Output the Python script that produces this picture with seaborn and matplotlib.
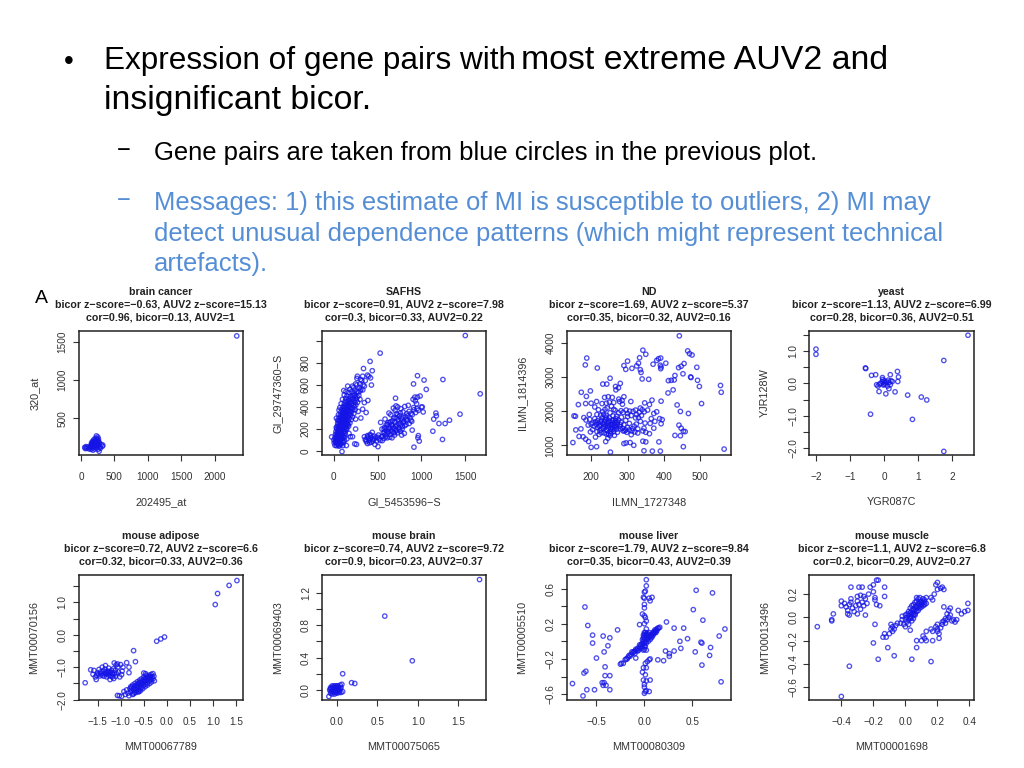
import pandas as pd
import matplotlib
matplotlib.use("Agg")
import matplotlib.pyplot as plt
import seaborn as sns

# points, (x, y) in axis units
brain_cancer = [(2330,1575),(55,120),(65,105),(75,130),(85,110),(100,125),(120,100),(130,115),(145,140),(150,95),
    (155,170),(160,130),(165,190),(170,150),(175,115),(180,205),(180,85),(185,160),(190,130),(195,225),(200,180),
    (205,100),(210,150),(215,210),(215,125),(220,240),(225,170),(230,270),(235,140),(235,200),(240,115),(240,225),
    (245,175),(250,255),(255,95),(260,150),(265,195),(270,70),(280,125),(290,110),(300,160),(320,135),(325,150),
    (175,175),(200,195),(225,160),(250,205),(160,155),(190,145),(215,190),(270,180),(150,120),(260,230),(205,165),(185,185)]
safhs = [(1500,1050),(1670,520),(1245,650),(1030,645),(955,685),(910,610),(1055,560),(530,890),(415,815),(340,750),
    (440,730),(270,680),(265,660),(400,680),(385,690),(430,600),(350,590),(335,600),(1440,335),(1320,280),(1270,250),
    (1240,105),(1200,250),(1165,345),(1170,320),(1130,180),(1140,290),(915,35),(975,90),(965,140),(960,120),(95,-5),
    (15,52),(32,48),(47,55),(62,44),(78,57),(104,49),(6,74),(27,79),(41,70),(56,82),(71,73),(88,68),(112,77),
    (2,101),(21,96),(36,108),(52,93),(67,104),(81,98),(96,110),(123,95),(-23,128),(14,122),(31,131),(46,119),(61,127),
    (76,133),(92,120),(113,129),(22,152),(37,146),(51,158),(66,149),(83,154),(102,143),(128,156),(26,177),(42,170),
    (56,181),(72,173),(87,179),(107,168),(133,176),(34,203),(52,196),(66,207),(81,198),(97,204),(116,193),(142,201),
    (41,226),(57,220),(71,231),(86,222),(102,229),(122,218),(152,227),(46,252),(62,246),(77,256),(92,248),(107,254),
    (127,243),(157,251),(56,277),(72,271),(87,281),(101,273),(117,279),(137,268),(167,276),(31,298),(62,303),(81,296),
    (96,306),(112,298),(127,304),(147,293),(177,301),(76,327),(92,321),(107,331),(122,323),(137,329),(157,318),(192,326),
    (82,352),(101,346),(117,356),(132,348),(152,354),(172,343),(202,351),(61,372),(92,377),(111,371),(127,381),(142,373),
    (162,379),(182,368),(217,376),(106,402),(122,396),(137,406),(157,398),(177,404),(197,393),(237,401),(121,427),
    (142,421),(162,431),(182,423),(207,429),(252,418),(131,452),(152,446),(172,456),(197,448),(227,454),(272,443),
    (137,477),(167,471),(192,481),(222,473),(252,479),(152,502),(187,496),(217,506),(247,498),(287,504),(172,532),
    (232,526),(282,536),(115,550),(242,552),(302,546),(332,556),(215,590),(290,575),(250,610),(320,640),(330,680),
    (305,650),(360,640),(420,665),(300,470),(390,460),(330,380),(370,350),(250,290),(280,360),(310,300),(145,50),(190,130),
    (165,240),(240,65),(260,60),(385,140),(350,130),(360,105),(372,85),(385,68),(395,115),(405,95),(415,150),(425,120),
    (430,80),(440,170),(450,105),(460,135),(470,60),(480,125),(490,90),(505,40),(510,145),(520,110),(535,260),(545,130),
    (555,95),(565,165),(575,115),(585,290),(590,150),(600,185),(610,120),(615,240),(625,175),(630,345),(635,210),(645,150),
    (650,265),(655,190),(665,120),(670,230),(680,170),(685,300),(690,205),(695,145),(700,260),(705,480),(710,190),(715,340),
    (720,235),(725,165),(730,400),(735,280),(740,210),(750,320),(755,250),(760,180),(765,385),(770,295),(775,145),(785,225),
    (790,355),(800,270),(805,160),(810,405),(820,310),(825,240),(835,340),(840,280),(850,415),(860,250),(870,300),
    (880,340),(890,270),(895,190),(905,470),(915,375),(925,490),(935,350),(945,430),(955,490),(965,370),(985,500),
    (1000,400),(1010,400),(1020,355),(600,210),(650,330),(700,370),(550,200),(780,280),(660,240),(720,300),(620,260),
    # thicker parts of both SAFHS arms
    (20,85),(44,135),(58,165),(74,190),(90,215),(110,240),(130,262),(145,285),(160,310),(178,335),(195,362),(210,392),
    (226,415),(242,440),(258,462),(268,490),(30,215),(45,280),(55,330),(70,395),(85,430),(100,470),(120,510),(140,540),
    (160,590),(185,560),(205,540),(225,575),(265,540),(150,200),(170,225),(185,255),(200,285),(215,310),(230,340),(245,375),
    (100,85),(125,125),(150,110),(175,160),(215,130),(250,200),(310,560),(265,600),(300,610),(350,440),(60,55),(38,90),
    (78,115),(98,150),(118,180),(138,212),(148,248),(115,305),(135,345),(155,375),(170,408),(190,440),(205,470),(235,505),
    (370,100),(390,130),(410,75),(420,140),(445,90),(465,110),(500,125),(530,95),(560,135),(580,170),(595,130),(610,160),
    (625,200),(640,125),(660,175),(675,215),(690,165),(705,225),(720,185),(735,250),(750,195),(765,235),(780,200),(795,255),
    (810,230),(825,290),(845,320),(860,360),(880,280),(895,330),(910,395),(930,455),(950,385),(640,260),(670,275),(700,300),
    (730,330),(760,345),(790,305),(600,240),(580,215),(680,390),(710,410),(575,200)]
nd = [(442,4200),(342,3780),(350,3660),(333,3560),(330,3400),(300,3460),(290,3330),(295,3220),(312,3250),(325,3320),(335,3210),
    (337,3130),(340,2940),(358,2930),(188,3550),(184,3350),(217,3260),(252,2960),(232,2790),(243,2790),(280,2810),(267,2720),
    (268,2620),(275,2680),(173,2550),(187,2430),(198,2590),(370,3370),(380,3480),(385,3530),(391,3550),(390,3340),(391,3240),
    (392,3290),(405,3400),(465,3760),(470,3680),(477,3640),(490,3280),(455,3390),(447,3310),(440,3270),(452,3090),(474,2980),
    (473,3000),(492,2900),(497,2720),(555,2750),(557,2550),(565,890),(503,2220),(412,2890),(420,2900),(428,2910),(430,3040),
    (425,2620),(411,2530),(436,2180),(445,1990),(467,1930),(441,1590),(447,1500),(453,1410),(458,1400),(430,1290),(445,1280),
    (453,960),(368,830),(390,830),(345,840),(253,800),(392,1630),(388,1780),(395,1750),(372,1930),(380,1980),(386,1100),
    (350,1100),(342,1120),(317,1000),(290,1050),(296,1070),(307,1080),(215,960),(200,940),(150,1080),(193,1110),(185,1180),
    (178,1250),(167,1260),(158,1450),(172,1480),(153,1860),(157,1850),(165,2190),(185,2220),(200,2230),(215,2280),(237,2400),
    (247,2420),(258,2400),(276,2350),(285,2310),(290,2420),(309,2280),(347,2240),(360,2190),(367,2320),(375,1700),(392,2290),
    (210,2120),(220,2040),(232,1980),(244,2090),(256,2140),(266,2020),(296,2030),(306,2000),(315,1990),(325,1900),(335,2090),
    (340,2040),(283,1820),(295,1730),(305,1640),(318,1560),(328,1480),(342,1420),(350,1380),(360,1340),(335,1700),(348,1650),
    (310,1310),(292,1420),(280,1480),(272,1380),(264,1290),(254,1340),(246,1210),(240,1110),(222,1320),(212,1240),(198,1390),
    (204,1460),(192,1590),(186,1740),(195,1900),(180,1810),(205,1650),(210,1780),(216,1900),(222,1560),(226,1690),(230,1800),
    (233,1500),(236,1620),(238,1740),(241,1880),(244,1420),(246,1560),(248,1680),(250,1800),(252,1950),(254,1480),(256,1600),
    (258,1720),(260,1860),(262,1400),(264,1540),(266,1660),(268,1780),(270,1470),(272,1610),(275,1740),(278,1550),(282,1670),
    (286,1500),(290,1600),(295,1450),(300,1520),(305,1450),(312,1420),(320,1390),(328,1360),(214,1610),(218,1720),(224,1430),
    (228,1370),(242,1330),(252,1280),(345,1500),(362,1640),(372,1500),(365,1780),(322,1800),(310,1870),(332,1960),(355,2030),
    (300,1930),(282,2010),(275,1950),(230,2220),(262,2250),
    # the dense middle of the ND cloud
    (220,1650),(224,1580),(228,1720),(232,1640),(235,1540),(237,1680),(240,1580),(242,1460),(243,1770),(245,1640),(247,1500),
    (249,1720),(251,1590),(253,1400),(255,1680),(257,1530),(259,1620),(261,1750),(263,1480),(265,1590),(267,1720),(269,1540),
    (240,1820),(234,1900),(228,1480),(218,1520),(212,1690),(208,1560),(200,1620),(196,1760),(216,1400),(236,1360),(248,1320),
    (258,1460),(272,1680),(280,1600),(288,1420),(298,1380),(314,1490),(324,1620),(330,1810),(338,1870),(346,1980),(322,2030),
    (300,1840),(288,1960),(270,1850),(262,2050),(250,2260),(242,2230),(286,2200),(278,2280),(238,2050),(226,1880)]
yeast = [(-2,1.06),(-2,.9),(2.46,1.49),(1.75,.71),(1.75,-2.1),(.83,-1.11),(1.25,-.51),(1.09,-.42),(.69,-.36),(-.4,-.95),
    (.05,-.32),(.32,-.26),(-.37,.25),(-.25,.27),(-.55,.48),(-.54,.46),(.39,.37),(.42,.2),(.4,.06),(.18,.27),
    (-.22,-.04),(-.18,-.08),(-.15,-.25),(-.14,-.02),(-.1,.0),(-.06,.05),(-.05,.18),(-.04,.12),(-.02,-.05),(.0,.08),
    (.04,-.02),(.07,.05),(.1,-.08),(.12,.1),(.14,-.16),(.15,.03),(.18,-.04),(.2,.08),(.24,.06),(.02,.03),(-.01,-.02)]
mouse_adipose = [(1.52,1.67),(1.35,1.52),(1.1,1.27),(1.05,.93),(-.05,-.07),(-.13,-.13),(-.22,-.2),(-.72,-.49),(-.68,-.83),
    (-.87,-.86),(-.82,-1.0),(-.82,-1.17),(-1.77,-1.48),(-1.65,-1.08),(-1.6,-1.22),(-1.58,-1.1),(-1.55,-1.3),(-1.53,-1.38),
    (-1.5,-1.18),(-1.47,-1.07),(-1.45,-1.27),(-1.42,-1.2),(-1.4,-1.0),(-1.38,-1.12),(-1.36,-1.28),(-1.34,-1.06),(-1.33,-.95),
    (-1.31,-1.2),(-1.3,-1.3),(-1.28,-1.12),(-1.26,-1.03),(-1.25,-1.25),(-1.23,-1.38),(-1.22,-1.18),(-1.2,-1.1),(-1.18,-1.3),
    (-1.17,-1.22),(-1.15,-1.35),(-1.14,-.87),(-1.12,-1.1),(-1.11,-1.28),(-1.09,-1.2),(-1.07,-.9),(-1.06,-.99),(-1.05,-1.15),
    (-1.02,-1.3),(-1.0,-.92),(-.98,-1.23),(-.95,-1.0),(-.97,-1.12),(-1.35,-1.2),(-1.27,-1.16),(-1.44,-1.15),(-1.19,-1.18),
    (-1.07,-1.87),(-1.03,-1.88),(-.98,-1.9),(-.93,-1.75),(-.9,-1.84),(-.87,-1.7),(-.84,-1.8),(-.82,-1.88),(-.8,-1.66),(-.78,-1.76),
    (-.76,-1.62),(-.74,-1.84),(-.72,-1.7),(-.7,-1.58),(-.7,-1.78),(-.68,-1.66),(-.66,-1.55),(-.66,-1.72),(-.64,-1.62),(-.62,-1.5),
    (-.62,-1.7),(-.6,-1.6),(-.58,-1.46),(-.58,-1.66),(-.56,-1.54),(-.54,-1.44),(-.54,-1.62),(-.52,-1.5),(-.5,-1.38),(-.5,-1.56),
    (-.48,-1.44),(-.46,-1.33),(-.46,-1.52),(-.44,-1.4),(-.42,-1.3),(-.42,-1.48),(-.4,-1.36),(-.38,-1.25),(-.38,-1.42),(-.36,-1.32),
    (-.34,-1.22),(-.34,-1.38),(-.32,-1.3),(-.3,-1.2),(-.3,-1.36),(-.28,-1.28),(-.5,-1.18),(-.46,-1.2),(-.27,-1.42),(-.6,-1.75),
    (-.78,-1.6),(-.74,-1.55),(-.69,-1.5),(-.64,-1.45),(-.59,-1.4),(-.55,-1.36),(-.5,-1.3),(-.45,-1.25),(-.72,-1.82),(-.67,-1.78),
    (-.62,-1.76),(-.57,-1.72),(-.52,-1.66),(-.47,-1.6),(-.42,-1.55),(-.37,-1.5),(-.33,-1.45),(-.77,-1.7),(-.71,-1.64),(-.65,-1.58),
    (-.6,-1.52),(-.55,-1.48),(-.49,-1.42),(-.44,-1.35),(-.39,-1.3),(-.35,-1.28),(-1.32,-1.14),(-1.29,-1.22),(-1.24,-1.15),(-1.21,-1.28),
    (-1.16,-1.05),(-1.13,-1.18),(-1.4,-1.25),(-1.48,-1.22),(-1.52,-1.25),(-1.1,-.93)]
mouse_brain = [(1.76,1.36),(.59,.91),(.93,.36),(.07,.2),(.18,.09),(.22,.08),(-.1,-.08),(-.09,.0),(-.08,.03),(-.08,-.04),(-.07,.02),
    (-.07,-.02),(-.06,.05),(-.06,-.05),(-.05,.0),(-.05,.03),(-.04,-.03),(-.04,.05),(-.03,.0),(-.03,-.05),(-.02,.02),(-.02,.05),
    (-.01,-.03),(-.01,.0),(.0,.03),(.0,-.04),(.01,.01),(.01,.05),(.02,-.02),(.02,.03),(.03,.0),(.04,.06),(.05,.03),(.06,.07),
    (.07,-.02),(.05,-.03),(-.06,-.02),(-.03,.03),(.0,.0),(-.04,.01),(-.02,-.02),(.0,.05),(.02,.0),(.03,-.03),(.04,.02),(-.08,.01)]
mouse_liver = [(.02,.7),(.02,.63),(.01,.57),(.0,.56),(-.01,.5),(.0,.49),(.05,.49),(.08,.5),(.06,.46),(.0,.42),(.0,.38),(-.02,.31),(.0,.29),
    (.01,.27),(.02,.23),(.0,.2),(.02,.14),(-.05,.19),(.0,.1),(.02,.08),(-.62,.39),(-.59,.18),(-.54,.07),(-.54,-.02),(-.43,.06),
    (-.36,.04),(-.28,.13),(-.38,-.05),(-.42,-.12),(-.5,-.19),(.23,.22),(.31,.15),(.41,.15),(.37,0),(.45,.03),(.38,-.08),(.51,.36),
    (.54,.58),(.71,.55),(.61,.24),(.84,.14),(.78,.06),(.59,-.01),(.6,-.02),(.69,-.07),(.53,-.12),(.68,-.16),(.6,-.27),(.8,-.46),
    (.22,-.11),(.26,-.14),(.26,-.17),(.31,-.11),(.14,-.21),(.2,-.22),(.06,-.2),(.05,-.21),(.03,-.23),(.01,-.25),(-.75,-.48),(-.64,-.62),
    (-.6,-.55),(-.63,-.36),(-.61,-.34),(-.52,-.55),(-.43,-.5),(-.42,-.47),(-.44,-.47),(-.4,-.5),(-.41,-.39),(-.41,-.29),(-.36,-.39),
    (-.36,-.55),(-.09,-.19),(-.01,-.3),(-.02,-.35),(.01,-.38),(.02,-.3),(-.01,-.44),(.02,-.45),(.06,-.44),(.0,-.49),(.0,-.52),(.01,-.57),
    (.05,-.57),(.0,-.59),(.02,-.56),(-.25,-.26),(-.24,-.25),(-.22,-.25),(-.2,-.21),(-.18,-.2),(-.17,-.18),(-.16,-.16),(-.14,-.15),(-.12,-.13),
    (-.1,-.11),(-.1,-.14),(-.08,-.1),(-.07,-.08),(-.06,-.1),(-.05,-.07),(-.04,-.05),(-.03,-.08),(-.02,-.03),(-.02,.02),(-.01,-.1),(-.01,.04),
    (0,-.02),(0,.02),(0,.05),(.01,-.06),(.01,.0),(.02,.03),(.03,.02),(.03,.06),(.04,.04),(.05,.05),(.06,.02),(.07,.07),(.08,.08),(.09,.07),
    (.1,.11),(.11,.1),(.12,.12),(.13,.14),(.14,.15),(.15,.15),(.16,.16),(.0,-.09),(.02,-.1),(-.19,-.2),(-.15,-.17),(-.13,-.12),(-.11,-.12),
    (-.09,-.09),(-.07,-.11),(-.05,-.04),(-.03,-.03),(-.02,-.06),(-.01,.0),(.0,.08),(.01,.1),(.02,.07),(.03,.09),(.04,.08),(.05,.1),(.06,.06),
    (.07,.04),(.08,.05),(.09,.1),(.1,.09),(.11,.13),(.12,.1),(.13,.12),(-.01,.07),(.0,-.05),(.02,-.02),(.04,.0)]
mouse_muscle = [(-.4,-.68),(-.35,-.42),(-.55,-.08),(-.46,-.03),(-.46,-.02),(-.45,.03),(-.19,-.06),(-.11,-.26),(-.17,-.36),(-.07,-.33),(.04,-.36),
    (.16,-.38),(-.2,-.22),(-.34,.26),(-.29,.26),(-.27,.26),(-.18,.32),(-.17,.32),(-.2,.28),(-.22,.26),(-.23,.2),(-.2,.22),(-.19,.17),(-.13,.26),
    (-.13,.18),(-.19,.15),(-.18,.11),(-.16,.1),(-.25,.02),(-.3,.03),(-.4,.14),(-.4,.1),(-.38,.12),(-.37,.09),(-.36,.06),(-.35,.11),(-.34,.13),
    (-.33,.08),(-.32,.05),(-.31,.1),(-.3,.18),(-.3,.14),(-.29,.11),(-.28,.19),(-.28,.07),(-.27,.13),(-.26,.18),(-.26,.1),(-.25,.16),(-.24,.12),(-.36,.03),
    (-.35,.02),(-.34,.16),(-.09,-.06),(-.08,-.08),(-.09,-.1),(-.08,-.12),(-.1,-.14),(-.07,-.1),(-.14,-.17),(-.13,-.14),(-.12,-.17),(-.06,-.07),(-.05,-.05),
    (-.03,-.05),(-.02,-.02),(-.01,-.06),(.0,-.08),(.0,-.02),(.01,.0),(.01,-.04),(.02,.02),(.02,-.06),(.03,.04),(.03,-.01),(.03,-.11),(.04,.06),(.04,.0),
    (.05,.07),(.05,.02),(.06,.09),(.06,.03),(.07,.1),(.07,.05),(.08,.12),(.08,.06),(.09,.13),(.09,.08),(.1,.14),(.1,.09),(.11,.16),(.11,.1),(.12,.15),(.12,.11),
    (.13,.17),(.13,.12),(.07,.17),(.06,.02),(.04,-.03),(.16,.17),(.18,.2),(.17,.15),(.2,.24),(.19,.28),(.2,.3),(.22,.25),(.23,.26),(.24,.24),(.24,.09),(.2,-.1),
    (.17,-.12),(.13,-.12),(.16,-.1),(.1,-.2),(.07,-.2),(.11,-.16),(.12,-.18),(.07,-.26),(.13,-.2),(.17,-.2),(.2,-.12),(.21,-.14),(.22,-.09),(.23,-.06),(.24,-.03),
    (.25,-.05),(.25,-.01),(.26,-.02),(.26,.03),(.27,.0),(.27,.06),(.28,.02),(.28,.08),(.29,-.03),(.3,-.02),(.31,-.04),(.32,-.02),(.33,.06),(.35,.03),(.37,.05),
    (.39,.12),(.39,.06),(.23,-.04),(.2,-.06),(.21,-.18),(.19,-.08),(.02,.05),(.03,.08),(.04,.1),(.05,.11),(.06,.13),(.07,.14),(.08,.16),(.09,.17),(.1,.12),
    (.11,.13),(.12,.13),(.03,.0),(.05,.04),(.06,.06),(.07,.08),(.08,.09),(.09,.1),(.1,.11),(.01,.03),(.02,-.02),(.0,.02),(.04,.03),(.05,-.01),(-.02,.01)]

panels = [brain_cancer, safhs, nd, yeast, mouse_adipose, mouse_brain, mouse_liver, mouse_muscle]
names = ["brain cancer", "SAFHS", "ND", "yeast", "mouse adipose", "mouse brain", "mouse liver", "mouse muscle"]
zscores = ["bicor z−score=−0.63, AUV2 z−score=15.13", "bicor z−score=0.91, AUV2 z−score=7.98",
           "bicor z−score=1.69, AUV2 z−score=5.37", "bicor z−score=1.13, AUV2 z−score=6.99",
           "bicor z−score=0.72, AUV2 z−score=6.6", "bicor z−score=0.74, AUV2 z−score=9.72",
           "bicor z−score=1.79, AUV2 z−score=9.84", "bicor z−score=1.1, AUV2 z−score=6.8"]
stats = ["cor=0.96, bicor=0.13, AUV2=1", "cor=0.3, bicor=0.33, AUV2=0.22", "cor=0.35, bicor=0.32, AUV2=0.16",
         "cor=0.28, bicor=0.36, AUV2=0.51", "cor=0.32, bicor=0.33, AUV2=0.36", "cor=0.9, bicor=0.23, AUV2=0.37",
         "cor=0.35, bicor=0.43, AUV2=0.39", "cor=0.2, bicor=0.29, AUV2=0.27"]
xlabels = ["202495_at", "GI_5453596−S", "ILMN_1727348", "YGR087C", "MMT00067789", "MMT00075065", "MMT00080309", "MMT00001698"]
ylabels = ["320_at", "GI_29747360−S", "ILMN_1814396", "YJR128W", "MMT00070156", "MMT00069403", "MMT00005510", "MMT00013496"]
xlims = [(-35, 2419), (-133, 1736), (133, 583), (-2.196, 2.645), (-1.91, 1.645), (-0.185, 1.84), (-0.81, 0.90), (-0.6, 0.43)]
ylims = [(17, 1643), (-39, 1094), (708, 4350), (-2.22, 1.63), (-2.02, 1.85), (-0.127, 1.42), (-0.67, 0.757), (-0.713, 0.367)]
xticks = [[0, 500, 1000, 1500, 2000], [0, 500, 1000, 1500], [200, 300, 400, 500], [-2, -1, 0, 1, 2],
          [-1.5, -1, -.5, 0, .5, 1, 1.5], [0, .5, 1, 1.5], [-.5, 0, .5], [-.4, -.2, 0, .2, .4]]
xticklabels = [["0", "500", "1000", "1500", "2000"], ["0", "500", "1000", "1500"], ["200", "300", "400", "500"],
               ["−2", "−1", "0", "1", "2"], ["−1.5", "−1.0", "−0.5", "0.0", "0.5", "1.0", "1.5"],
               ["0.0", "0.5", "1.0", "1.5"], ["−0.5", "0.0", "0.5"], ["−0.4", "−0.2", "0.0", "0.2", "0.4"]]
yticks = [[500, 1000, 1500], [0, 200, 400, 600, 800, 1000], [1000, 2000, 3000, 4000],
          [-2, -1.5, -1, -.5, 0, .5, 1, 1.5], [-2, -1.5, -1, -.5, 0, .5, 1, 1.5], [0, .2, .4, .6, .8, 1, 1.2],
          [-.6, -.4, -.2, 0, .2, .4, .6], [-.6, -.4, -.2, 0, .2]]
yticklabels = [["500", "1000", "1500"], ["0", "200", "400", "600", "800", ""], ["1000", "2000", "3000", "4000"],
               ["−2.0", "", "−1.0", "", "0.0", "", "1.0", ""], ["−2.0", "", "−1.0", "", "0.0", "", "1.0", ""],
               ["0.0", "", "0.4", "", "0.8", "", "1.2"], ["−0.6", "", "−0.2", "", "0.2", "", "0.6"],
               ["−0.6", "−0.4", "−0.2", "0.0", "0.2"]]
# axes boxes in pixels: left, right
box_x = [(78.7, 242.7), (322, 486), (566.7, 730.7), (809.3, 974.3)]
box_y = [(330.7, 455.3), (574.7, 700.3)]

sns.set_theme(style="ticks")
plt.rcParams['font.family'] = ['Liberation Sans', 'DejaVu Sans']

W, H = 1024, 768
fig = plt.figure(figsize=(W / 100, H / 100), dpi=100, facecolor="white")


def px_text(x, y, s, **kw):
    fig.text(x / W, 1 - y / H, s, **kw)


# slide text
px_text(64, 69, "•", fontsize=20, color="black")
px_text(104, 69, "Expression of gene pairs with", fontsize=22.7, color="black")
px_text(521, 69, "most extreme AUV2 and", fontsize=24.4, color="black")
px_text(104, 109, "insignificant bicor.", fontsize=24.4, color="black")
px_text(117, 157, "−", fontsize=17, color="black")
px_text(154, 160, "Gene pairs are taken from blue circles in the previous plot.", fontsize=18.45, color="black")
px_text(117, 207, "−", fontsize=17, color="#558ed5")
blue_lines = ["Messages: 1) this estimate of MI is susceptible to outliers, 2) MI may",
              "detect unusual dependence patterns (which might represent technical",
              "artefacts)."]
for line, yy in zip(blue_lines, [210, 241, 271]):
    px_text(154, yy, line, fontsize=18.45, color="#558ed5")
px_text(35, 303, "A", fontsize=14, color="black")

for i, pts in enumerate(panels):
    l, r = box_x[i % 4]
    t, b = box_y[i // 4]
    ax = fig.add_axes([l / W, 1 - b / H, (r - l) / W, (b - t) / H])
    df = pd.DataFrame(pts, columns=["x", "y"])
    sns.scatterplot(data=df, x="x", y="y", ax=ax, s=10, facecolor="none", edgecolor="#1414e6",
                    linewidth=0.95, alpha=0.75)
    ax.set_xlim(xlims[i])
    ax.set_ylim(ylims[i])
    ax.set_xticks(xticks[i])
    ax.set_xticklabels(xticklabels[i], fontsize=7.2, color="#333333")
    ax.set_yticks(yticks[i])
    ax.set_yticklabels(yticklabels[i], fontsize=7.2, color="#333333", rotation=90, va="center")
    ax.tick_params(axis="x", length=4, width=0.8, color="#333333", pad=8)
    ax.tick_params(axis="y", length=4, width=0.8, color="#333333", pad=4)
    ax.set_xlabel(xlabels[i], fontsize=7.8, color="#333333", labelpad=11)
    ax.set_ylabel(ylabels[i], fontsize=7.8, color="#333333", labelpad=13)
    for sp in ax.spines.values():
        sp.set_visible(True)
        sp.set_linewidth(1.1)
        sp.set_color("#222222")
    cx = (l + r) / 2
    px_text(cx, t - 38.3, names[i], fontsize=7.7, fontweight="bold", color="#222222", ha="center", va="center")
    px_text(cx, t - 26.2, zscores[i], fontsize=7.7, fontweight="bold", color="#222222", ha="center", va="center")
    px_text(cx, t - 13.2, stats[i], fontsize=7.7, fontweight="bold", color="#222222", ha="center", va="center")

fig.savefig("out.png", dpi=100)
